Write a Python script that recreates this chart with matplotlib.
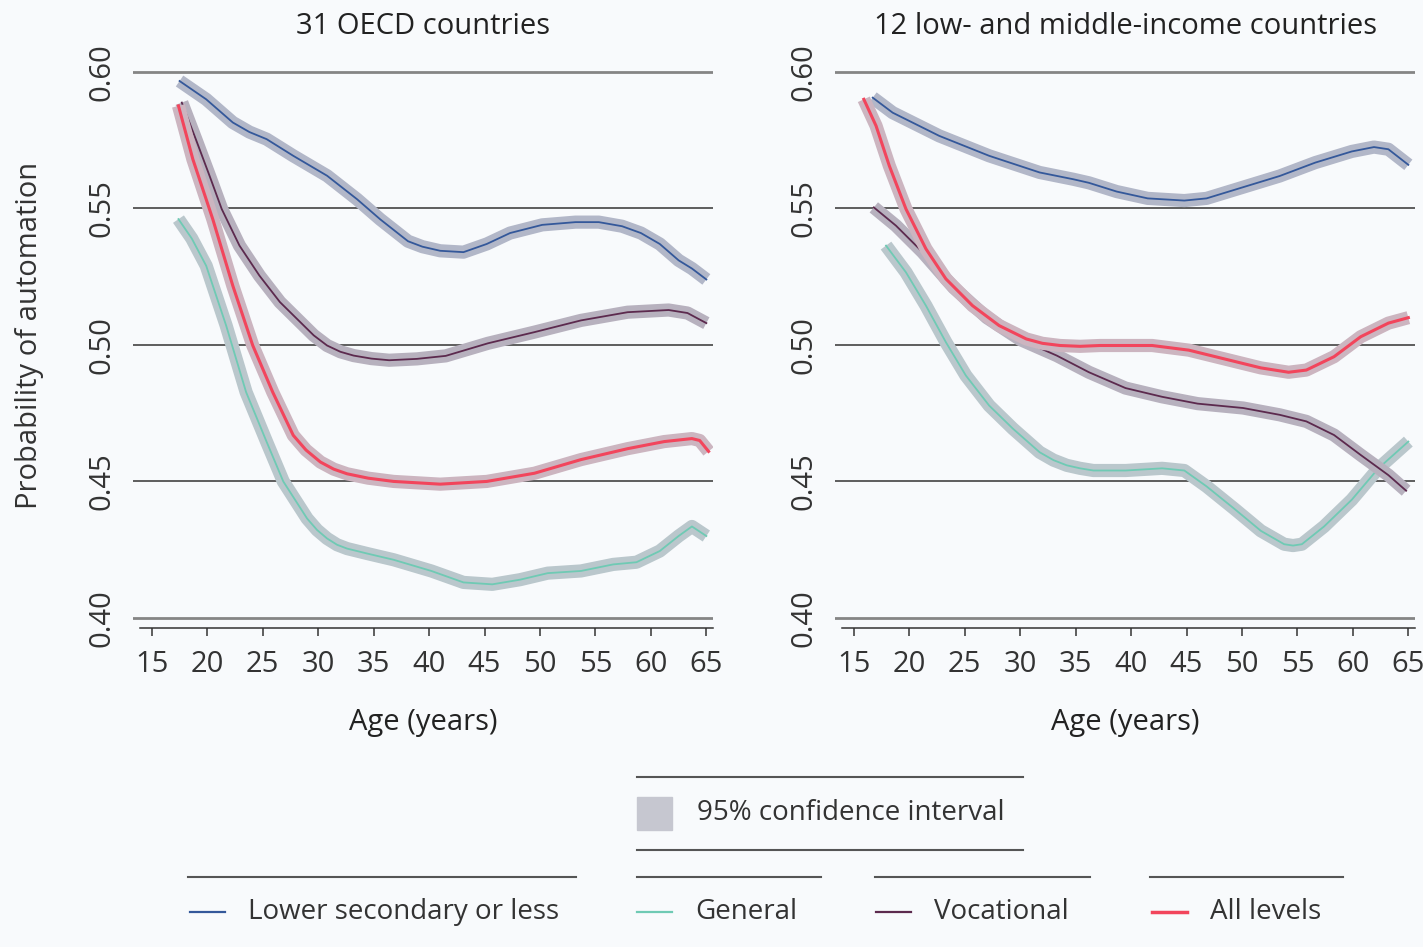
import matplotlib.pyplot as plt
from matplotlib.lines import Line2D
from matplotlib.patches import Rectangle
from matplotlib import colors as mcolors
import numpy as np

# 31 OECD countries
age_low_oecd = [17.5, 19.9, 22.3, 23.8, 25.35, 27.75, 30.8, 33.5, 35.6, 38.1, 39.4, 41, 43.1, 45.2, 47.3,
                50.2, 53.2, 55.3, 57.4, 59.1, 60.8, 62.5, 63.7, 65]
low_oecd = [0.5967, 0.590, 0.5815, 0.5780, 0.5754, 0.5693, 0.562, 0.5534, 0.546, 0.538, 0.536, 0.5345,
            0.534, 0.537, 0.541, 0.544, 0.545, 0.545, 0.5435, 0.541, 0.537, 0.531, 0.528, 0.524]

age_gen_oecd = [17.4, 18.6, 19.9, 21.7, 23.5, 25.35, 26.85, 29.0, 29.9, 30.8, 31.7, 32.6, 34.5, 36.8,
                40.2, 43.1, 45.7, 48.2, 50.7, 53.7, 56.6, 58.7, 60.8, 62.5, 63.7, 65]
gen_oecd = [0.5461, 0.539, 0.529, 0.5071, 0.4827, 0.4645, 0.450, 0.4364, 0.4322, 0.4291, 0.4268, 0.4254,
            0.4235, 0.4213, 0.4172, 0.413, 0.4123, 0.414, 0.4164, 0.4172, 0.4196, 0.4204, 0.4245, 0.430,
            0.4335, 0.430]

age_voc_oecd = [17.7, 19.0, 20.2, 21.3, 22.9, 24.7, 26.55, 28.4, 29.6, 30.8, 32.0, 33.2, 34.8, 36.4,
                38.9, 41.5, 45.3, 49.5, 53.7, 57.9, 61.6, 63.3, 65]
voc_oecd = [0.5888, 0.575, 0.562, 0.5498, 0.5364, 0.5254, 0.5157, 0.5083, 0.5035, 0.4998, 0.4975,
            0.4961, 0.495, 0.4944, 0.4949, 0.496, 0.5006, 0.5047, 0.509, 0.512, 0.5128, 0.5117, 0.508]

age_all_oecd = [17.4, 18.7, 20.5, 22.3, 24.1, 25.9, 27.75, 28.9, 30.2, 31.4, 32.6, 34.5, 36.8, 41, 45.2,
                49.5, 53.7, 57.9, 61.2, 63.7, 64.4, 65.2]
all_oecd = [0.5876, 0.568, 0.546, 0.5217, 0.4998, 0.4827, 0.4669, 0.4615, 0.4571, 0.4545, 0.4528, 0.4512,
            0.450, 0.449, 0.450, 0.453, 0.458, 0.462, 0.4646, 0.4657, 0.465, 0.461]

# 12 low- and middle-income countries
age_low_lmic = [16.7, 18.5, 22.7, 27.2, 31.75, 34.8, 36.2, 38.7, 41.5, 44.8, 46.8, 50.1, 53.4, 56.6,
                59.9, 61.9, 63.2, 65]
low_lmic = [0.5906, 0.5851, 0.5766, 0.5693, 0.5632, 0.5607, 0.5594, 0.5562, 0.5537, 0.5529, 0.5537,
            0.5578, 0.5619, 0.5668, 0.5709, 0.5725, 0.5717, 0.566]

age_gen_lmic = [17.9, 19.7, 21.5, 23.3, 25.1, 27.2, 29.35, 31.75, 33.0, 34.2, 35.4, 36.6, 39.5, 42.8,
                44.8, 46.8, 49.3, 51.7, 53.8, 54.6, 55.4, 57.4, 59.9, 62.3, 65]
gen_lmic = [0.5364, 0.5266, 0.5144, 0.501, 0.4888, 0.4778, 0.4693, 0.4607, 0.4578, 0.4559, 0.4548,
            0.454, 0.454, 0.4548, 0.454, 0.4482, 0.44, 0.4319, 0.427, 0.4265, 0.427, 0.4335, 0.4433,
            0.4548, 0.4646]

age_voc_lmic = [16.8, 18.8, 21.2, 24, 27, 30, 33.3, 36.2, 39.5, 42.8, 46, 50.1, 53.4, 55.8, 58.3,
                60.7, 63.2, 64.8]
voc_lmic = [0.5504, 0.5437, 0.534, 0.521, 0.510, 0.502, 0.4961, 0.490, 0.4842, 0.481, 0.4785,
            0.4769, 0.4744, 0.472, 0.467, 0.4597, 0.4523, 0.4466]

age_all_lmic = [15.9, 17.0, 18.2, 19.7, 21.5, 23.3, 25.7, 28.1, 30.55, 32.0, 33.6, 35.4, 37.2, 41.9,
                45.2, 48.5, 51.7, 54.2, 55.8, 58.3, 60.7, 63.2, 65]
all_lmic = [0.590, 0.5803, 0.5656, 0.5498, 0.5352, 0.5242, 0.5144, 0.5071, 0.5022, 0.5006, 0.4998,
            0.4995, 0.4998, 0.4998, 0.4981, 0.4948, 0.4916, 0.490, 0.4908, 0.4957, 0.503, 0.508, 0.510]

panel_titles = ["31 OECD countries", "12 low- and middle-income countries"]
series_names = ["Lower secondary or less", "General", "Vocational", "All levels"]
x_ticks = [15, 20, 25, 30, 35, 40, 45, 50, 55, 60, 65]
y_ticks = [0.40, 0.45, 0.50, 0.55, 0.60]

panels = [
    [(age_low_oecd, low_oecd), (age_gen_oecd, gen_oecd), (age_voc_oecd, voc_oecd), (age_all_oecd, all_oecd)],
    [(age_low_lmic, low_lmic), (age_gen_lmic, gen_lmic), (age_voc_lmic, voc_lmic), (age_all_lmic, all_lmic)],
]

line_colors = ["#34589a", "#6fcab4", "#5c2a4e", "#f2455c"]
line_widths = [1.3, 1.3, 1.3, 2.2]
band_gray = np.array(mcolors.to_rgb("#c6c7d0"))
bg = "#f8fafc"
txt = "#333333"
fs = 21
fs_leg = 20

plt.rcParams['font.family'] = ['Open Sans', 'DejaVu Sans']
W, H = 1423, 947
fig = plt.figure(figsize=(W / 100, H / 100), dpi=100, facecolor=bg)


def fx(x):
    return x / W


def fy(y):
    return 1 - y / H


ax_left_px = [133, 835]
for i, ax_px in enumerate(ax_left_px):
    ax = fig.add_axes([fx(ax_px), fy(628), 580 / W, (628 - 60) / H])
    ax.set_facecolor(bg)
    ax.set_xlim(13.3, 65.6)
    ax.set_ylim(0.3963, 0.6044)
    for s in ["top", "right", "left"]:
        ax.spines[s].set_visible(False)
    ax.spines["bottom"].set_bounds(13.9, 65.6)
    ax.spines["bottom"].set_color(txt)
    ax.spines["bottom"].set_linewidth(1.1)

    for yv in y_ticks:
        edge = yv in (0.40, 0.60)
        ax.axhline(yv, color="#858585" if edge else "#333333", lw=2.0 if edge else 1.1, zorder=1)

    for k, (ages, vals) in enumerate(panels[i]):
        c = np.array(mcolors.to_rgb(line_colors[k]))
        band_c = 0.86 * band_gray + 0.14 * c
        ax.plot(ages, vals, color=band_c, lw=9.5, solid_capstyle="butt", solid_joinstyle="round", zorder=2 + k)
        ax.plot(ages, vals, color=line_colors[k], lw=line_widths[k], solid_joinstyle="round", zorder=2 + k)

    ax.set_xticks(x_ticks)
    ax.set_yticks(y_ticks)
    ax.set_yticklabels([f"{v:.2f}" for v in y_ticks], rotation=90, va="center")
    ax.tick_params(axis="x", length=6, width=1.1, color=txt, pad=10, labelsize=fs, labelcolor=txt)
    ax.tick_params(axis="y", length=0, pad=12, labelsize=fs, labelcolor=txt)
    ax.set_title(panel_titles[i], fontsize=fs, color="#222222", pad=19)
    ax.set_xlabel("Age (years)", fontsize=fs, color="#222222", labelpad=21)

fig.text(fx(30), fy(335), "Probability of automation", rotation=90, ha="center", va="center",
         fontsize=fs, color=txt)

# legend block
rule_c = "#555555"
for y in (777, 850):
    fig.add_artist(Line2D([fx(637), fx(1023)], [fy(y), fy(y)], color=rule_c, lw=1.5))
fig.add_artist(Rectangle((fx(637), fy(830)), fx(672) - fx(637), fy(797) - fy(830),
                         color="#c6c7d0", transform=fig.transFigure))
fig.text(fx(697), fy(813), "95% confidence interval", va="center", ha="left", fontsize=fs_leg, color=txt)

rule_spans = [(188, 576), (637, 821), (875, 1090), (1150, 1343)]
handle_x = [190, 637, 876, 1152]
for k, name in enumerate(series_names):
    a, b = rule_spans[k]
    fig.add_artist(Line2D([fx(a), fx(b)], [fy(877), fy(877)], color=rule_c, lw=1.5))
    hx = handle_x[k]
    fig.add_artist(Line2D([fx(hx), fx(hx + 35)], [fy(912), fy(912)], color=line_colors[k],
                          lw=line_widths[k] + 0.3))
    fig.text(fx(hx + 58), fy(912), name, va="center", ha="left", fontsize=fs_leg, color=txt)

fig.savefig("out.png", dpi=100, facecolor=bg)
